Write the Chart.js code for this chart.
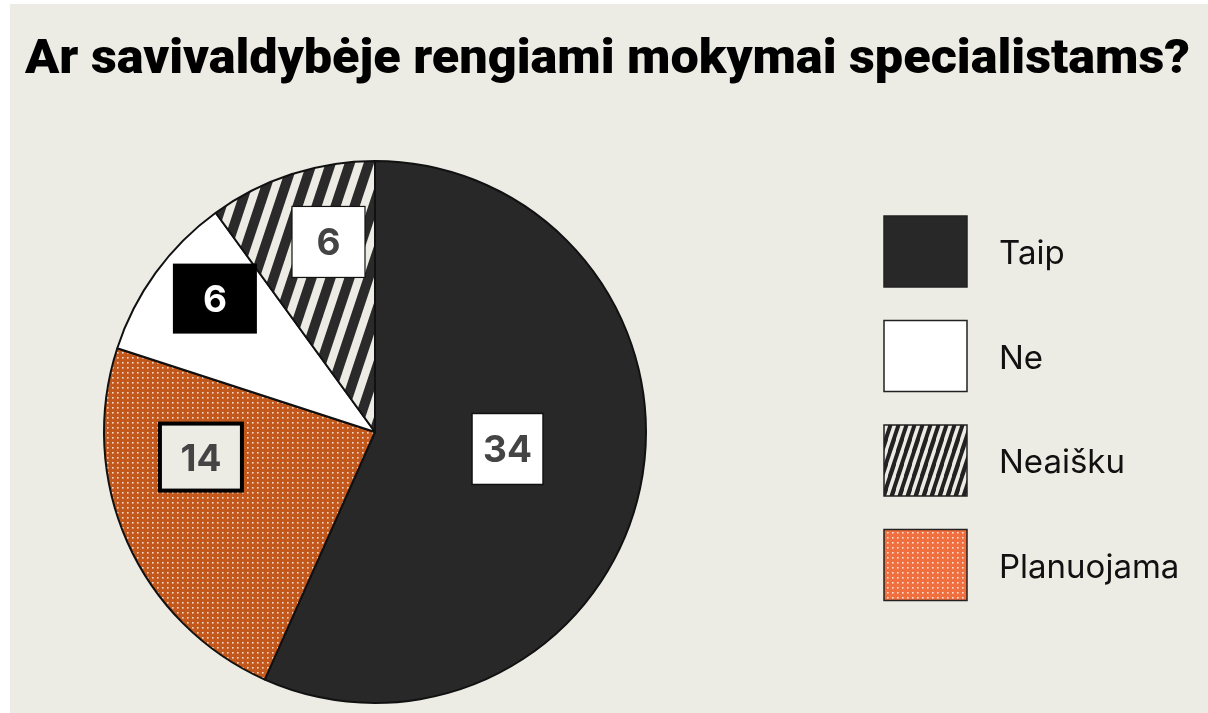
<!DOCTYPE html>
<html><head><meta charset="utf-8">
<script src="https://cdn.jsdelivr.net/npm/chart.js@4.4.0/dist/chart.umd.min.js"></script>
<style>html,body{margin:0;padding:0;background:#fff;overflow:hidden}canvas{display:block}</style>
</head><body><canvas id="c" width="1208" height="713"></canvas>
<script>
// ---- data ----
const titleText = 'Ar savivaldybėje rengiami mokymai specialistams?';
const categories = ['Taip', 'Planuojama', 'Ne', 'Neaišku'];   // clockwise from 12 o'clock
const values = [34, 14, 6, 6];
const legendOrder = ['Taip', 'Ne', 'Neaišku', 'Planuojama'];

// ---- styles ----
const BG = '#ECEBE4';
function stripePattern(p, h, dark, light, frac) {
  const c = document.createElement('canvas'); c.width = p; c.height = h;
  const g = c.getContext('2d');
  g.fillStyle = light; g.fillRect(0, 0, p, h);
  g.fillStyle = dark;
  const d = p * frac;
  for (let k = -1; k <= 1; k++) {
    const x0 = k * p;
    g.beginPath(); g.moveTo(x0, h); g.lineTo(x0 + p, 0); g.lineTo(x0 + p + d, 0); g.lineTo(x0 + d, h); g.closePath(); g.fill();
  }
  return g.createPattern(c, 'repeat');
}
function dotPattern(base, s, dot) {
  const c = document.createElement('canvas'); c.width = s; c.height = s;
  const g = c.getContext('2d');
  g.fillStyle = base; g.fillRect(0, 0, s, s);
  g.fillStyle = dot; g.fillRect(2, 2, 1.6, 1.6);
  return g.createPattern(c, 'repeat');
}
const pieFill = {
  'Taip': '#282828',
  'Planuojama': dotPattern('#C3581C', 5, 'rgba(255,255,255,0.8)'),
  'Ne': '#FFFFFF',
  'Neaišku': stripePattern(19, 57, '#2a2a2a', BG, 0.55)
};
const legendFill = {
  'Taip': '#282828',
  'Planuojama': dotPattern('#EF6F3F', 5, 'rgba(255,255,255,0.8)'),
  'Ne': '#FFFFFF',
  'Neaišku': stripePattern(8.4, 25.2, '#222', BG, 0.55)
};
const labelStyles = {
  'Taip':       {da: -4.7, rf: 0.493, w: 71, h: 71, fill: '#fff', stroke: '#111', lw: 1.5, color: '#444'},
  'Planuojama': {da: 15.8, rf: 0.649, w: 82, h: 67, fill: BG, stroke: '#000', lw: 4, color: '#444'},
  'Ne':         {da: 3.8, rf: 0.769, w: 84, h: 70, fill: '#000', stroke: null, lw: 0, color: '#fff'},
  'Neaišku':    {da: 4.25, rf: 0.722, w: 73, h: 71, fill: '#fff', stroke: '#111', lw: 1.2, color: '#444'}
};

const decor = {
  id: 'decor',
  beforeDraw(chart) {
    const ctx = chart.ctx;
    ctx.save();
    ctx.fillStyle = '#fff'; ctx.fillRect(0, 0, chart.width, chart.height);
    ctx.fillStyle = BG; ctx.fillRect(10, 4, chart.width - 10, chart.height - 4);
    // title
    ctx.fillStyle = '#000';
    ctx.font = '900 48px Roboto';
    ctx.textBaseline = 'alphabetic';
    const w = ctx.measureText(titleText).width;
    const target = 1165;
    ctx.translate(25, 73);
    ctx.scale(target / w, 1);
    ctx.fillText(titleText, 0, 0);
    ctx.restore();
  },
  afterDatasetsDraw(chart) {
    const ctx = chart.ctx;
    const meta = chart.getDatasetMeta(0);
    ctx.save();
    // slice labels
    meta.data.forEach((arc, i) => {
      const cat = categories[i];
      const st = labelStyles[cat];
      const p = arc.getProps(['x', 'y', 'startAngle', 'endAngle', 'outerRadius'], true);
      const a = (p.startAngle + p.endAngle) / 2 + st.da * Math.PI / 180;
      const r = p.outerRadius * st.rf;
      const cx = p.x + r * Math.cos(a), cy = p.y + r * Math.sin(a);
      ctx.fillStyle = st.fill;
      ctx.fillRect(cx - st.w / 2, cy - st.h / 2, st.w, st.h);
      if (st.stroke) {
        ctx.strokeStyle = st.stroke; ctx.lineWidth = st.lw;
        ctx.strokeRect(cx - st.w / 2, cy - st.h / 2, st.w, st.h);
      }
      ctx.fillStyle = st.color;
      ctx.font = 'bold 37px Inter';
      ctx.textAlign = 'center';
      ctx.textBaseline = 'alphabetic';
      ctx.fillText(String(values[i]), cx, cy + 13.5);
    });
    // legend
    legendOrder.forEach((cat, j) => {
      const x = 884, y = 216 + j * 104.5, bw = 83, bh = 71;
      ctx.fillStyle = legendFill[cat];
      ctx.fillRect(x, y, bw, bh);
      ctx.strokeStyle = '#222'; ctx.lineWidth = 1.5;
      ctx.strokeRect(x, y, bw, bh);
      ctx.fillStyle = '#111';
      ctx.font = '33px Inter';
      ctx.textAlign = 'left';
      ctx.textBaseline = 'alphabetic';
      ctx.fillText(cat, 999, y + bh / 2 + 12.5);
    });
    ctx.restore();
  }
};

new Chart(document.getElementById('c'), {
  type: 'pie',
  data: {
    labels: categories,
    datasets: [{
      data: values,
      backgroundColor: categories.map(c => pieFill[c]),
      borderColor: '#111',
      borderWidth: 2
    }]
  },
  options: {
    responsive: false,
    animation: false,
    devicePixelRatio: 1,
    layout: {padding: {left: 103, right: 561, top: 160, bottom: 9}},
    plugins: {legend: {display: false}, tooltip: {enabled: false}, title: {display: false}}
  },
  plugins: [decor]
});
</script>
</body></html>
